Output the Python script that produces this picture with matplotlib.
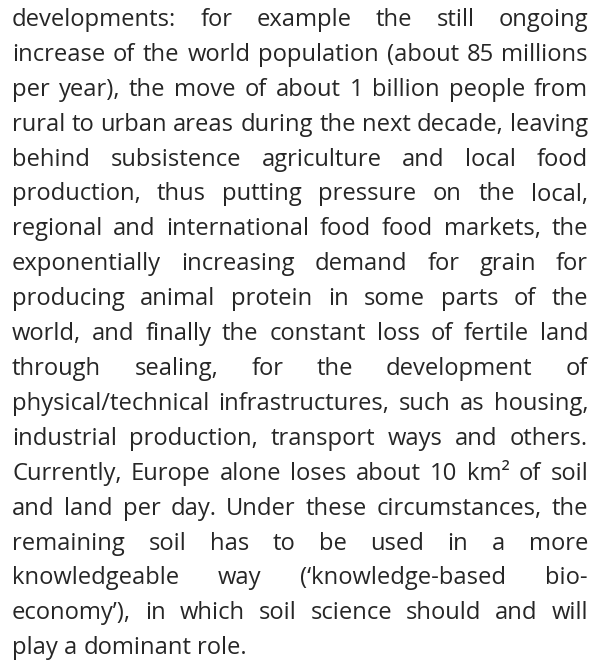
import matplotlib
matplotlib.use("Agg")
import matplotlib.pyplot as plt
from matplotlib.font_manager import FontProperties

# Paragraph lines as they break in the reference
lines = [
    "developments: for example the still ongoing",
    "increase of the world population (about 85 millions",
    "per year), the move of about 1 billion people from",
    "rural to urban areas during the next decade, leaving",
    "behind subsistence agriculture and local food",
    "production, thus putting pressure on the local,",
    "regional and international food food markets, the",
    "exponentially increasing demand for grain for",
    "producing animal protein in some parts of the",
    "world, and finally the constant loss of fertile land",
    "through sealing, for the development of",
    "physical/technical infrastructures, such as housing,",
    "industrial production, transport ways and others.",
    "Currently, Europe alone loses about 10 km\u00b2 of soil",
    "and land per day. Under these circumstances, the",
    "remaining soil has to be used in a more",
    "knowledgeable way (\u2018knowledge-based bio-",
    "economy\u2019), in which soil science should and will",
    "play a dominant role.",
]

W, H = 600, 660
left, right = 12, 588
first_y, step = 17, 34.9
family = "Open Sans"
color = "#262626"

fig = plt.figure(figsize=(W / 100, H / 100), dpi=100)
ax = fig.add_axes([0, 0, 1, 1])
ax.set_xlim(0, W)
ax.set_ylim(H, 0)
ax.axis("off")
renderer = fig.canvas.get_renderer()


def text_width(s, size):
    prop = FontProperties(family=family, size=size)
    w, _, _ = renderer.get_text_width_height_descent(s, prop, ismath=False)
    return w


# pick a font size so the tightest line just fits with normal spaces
size = 20.0
widest = max(text_width(l, size) for l in lines[:-1])
size = size * (right - left) / widest * 0.995
space = text_width("a a", size) - text_width("aa", size)

for i, line in enumerate(lines):
    y = first_y + i * step
    words = line.split(" ")
    widths = [text_width(w, size) for w in words]
    if i < len(lines) - 1 and len(words) > 1:
        gap = (right - left - sum(widths)) / (len(words) - 1)
    else:
        gap = space
    x = left
    for w, wd in zip(words, widths):
        ax.text(x, y, w, fontsize=size, family=family, color=color,
                ha="left", va="center_baseline")
        x += wd + gap

fig.savefig("out.png", dpi=100)
